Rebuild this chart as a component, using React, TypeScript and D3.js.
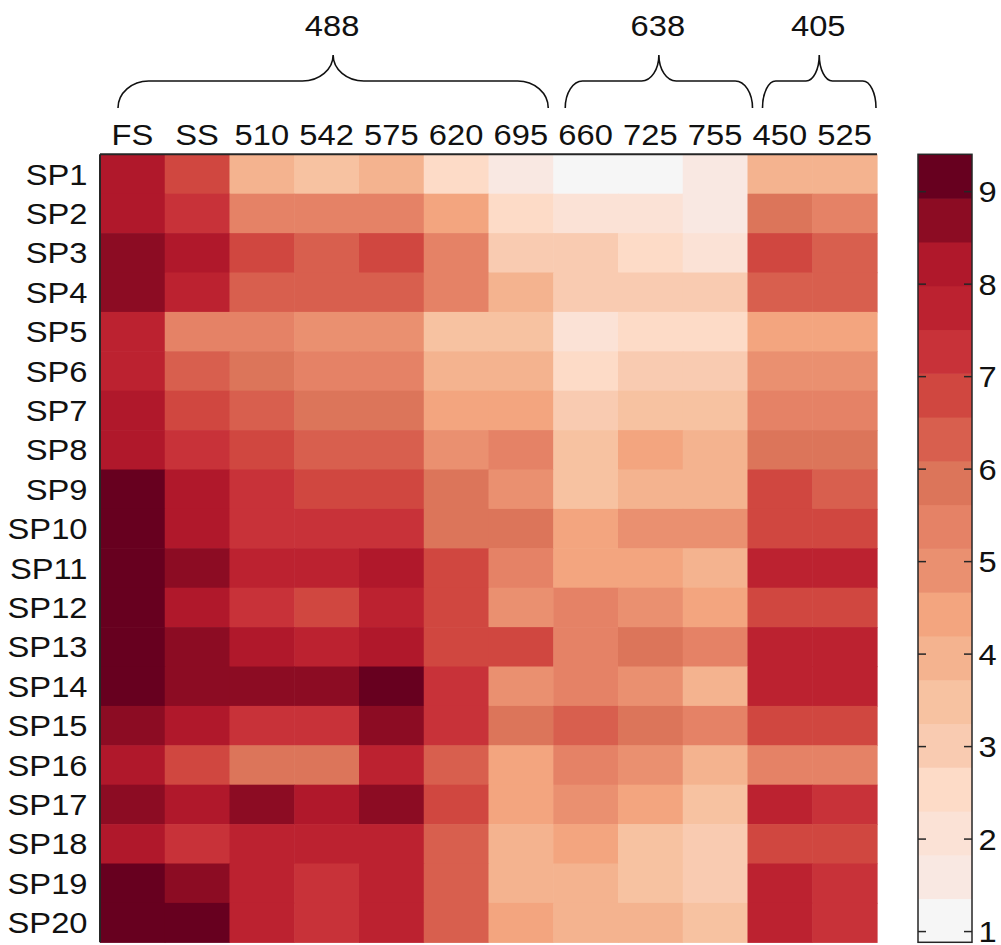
import React from "react";
import * as d3 from "d3";

// ---------- data ----------
const channels = ["FS", "SS", "510", "542", "575", "620", "695", "660", "725", "755", "450", "525"];
const samples = Array.from({ length: 20 }, (_, i) => `SP${i + 1}`);

const groups = [
  { label: "488", first: 0, last: 6 },
  { label: "638", first: 7, last: 9 },
  { label: "405", first: 10, last: 11 },
];

const colorbarTicks = [1, 2, 3, 4, 5, 6, 7, 8, 9];
const valueMin = 0.884;
const valueMax = 9.404;

// values per sample (row), in channel order
const values: number[][] = [
  [8.22, 6.80, 3.96, 3.49, 3.96, 2.54, 1.59, 1.12, 1.12, 1.59, 3.96, 3.96],
  [8.22, 7.27, 5.38, 5.38, 5.38, 4.43, 2.54, 2.07, 2.07, 1.59, 5.85, 5.38],
  [8.69, 8.22, 6.80, 6.33, 6.80, 5.38, 3.01, 3.01, 2.54, 2.07, 6.80, 6.33],
  [8.69, 7.75, 6.33, 6.33, 6.33, 5.38, 3.96, 3.01, 3.01, 3.01, 6.33, 6.33],
  [7.75, 5.38, 5.38, 4.91, 4.91, 3.49, 3.49, 2.07, 2.54, 2.54, 4.43, 4.43],
  [7.75, 6.33, 5.85, 5.38, 5.38, 3.96, 3.96, 2.54, 3.01, 3.01, 4.91, 4.91],
  [8.22, 6.80, 6.33, 5.85, 5.85, 4.43, 4.43, 3.01, 3.49, 3.49, 5.38, 5.38],
  [8.22, 7.27, 6.80, 6.33, 6.33, 4.91, 5.38, 3.49, 4.43, 3.96, 5.85, 5.85],
  [9.17, 8.22, 7.27, 6.80, 6.80, 5.85, 4.91, 3.49, 3.96, 3.96, 6.80, 6.33],
  [9.17, 8.22, 7.27, 7.27, 7.27, 5.85, 5.85, 4.43, 4.91, 4.91, 6.80, 6.80],
  [9.17, 8.69, 7.75, 7.75, 8.22, 6.80, 5.38, 4.43, 4.43, 3.96, 7.75, 7.75],
  [9.17, 8.22, 7.27, 6.80, 7.75, 6.80, 4.91, 5.38, 4.91, 4.43, 6.80, 6.80],
  [9.17, 8.69, 8.22, 7.75, 8.22, 6.80, 6.80, 5.38, 5.85, 5.38, 7.75, 7.75],
  [9.17, 8.69, 8.69, 8.69, 9.17, 7.27, 4.91, 5.38, 4.91, 3.96, 7.75, 7.75],
  [8.69, 8.22, 7.27, 7.27, 8.69, 7.27, 5.85, 6.33, 5.85, 5.38, 6.80, 6.80],
  [8.22, 6.80, 5.85, 5.85, 7.75, 6.33, 4.43, 5.38, 4.91, 3.96, 5.38, 5.38],
  [8.69, 8.22, 8.69, 8.22, 8.69, 6.80, 4.43, 4.91, 4.43, 3.49, 7.75, 7.27],
  [8.22, 7.27, 7.75, 7.75, 7.75, 6.33, 3.96, 4.43, 3.49, 3.01, 6.80, 6.80],
  [9.17, 8.69, 7.75, 7.27, 7.75, 6.33, 3.96, 3.96, 3.49, 3.01, 7.75, 7.27],
  [9.17, 9.17, 7.75, 7.27, 7.75, 6.33, 4.43, 3.96, 3.96, 3.49, 7.75, 7.27],
];

// ---------- style ----------
const palette = [
  "#f6f6f6", "#f9e8e2", "#fbe2d6", "#fddbc7", "#f9cbb1", "#f7c2a1",
  "#f4b38f", "#f3a57f", "#ea9070", "#e58266", "#dc755a", "#d85f4e",
  "#d04740", "#c83239", "#bc2230", "#b0182b", "#8c0c23", "#67001f",
];
const FONT = "'Liberation Sans', Arial, Helvetica, sans-serif";
const FS = 30;
const SX = 1.09;
const INK = "#111";
const AXIS = "#262626";

const plot = { left: 100, right: 877, top: 154.3, bottom: 942.3 };
const cb = { left: 918, right: 972 };
const braceInset: [number, number][] = [[18, 5], [12, -5], [15, 1]];
const brace = { yEnd: 108, yBar: 81, yPeak: 55, yLabel: 36 };

function Txt({ x, y, anchor = "middle", children }: any) {
  return (
    <text
      transform={`translate(${x},${y}) scale(${SX},1)`}
      textAnchor={anchor}
      fontFamily={FONT}
      fontSize={FS}
      fill={INK}
    >
      {children}
    </text>
  );
}

function bracePath(x0: number, x1: number) {
  const hw = (x1 - x0) / 2;
  const xm = x0 + hw;
  const c = Math.min(33, 7 + 0.11 * hw);
  const { yEnd, yBar, yPeak } = brace;
  const ry1 = yEnd - yBar;
  const ry2 = yBar - yPeak;
  return [
    `M${x0},${yEnd}`,
    `A${c},${ry1} 0 0 1 ${x0 + c},${yBar}`,
    `L${xm - c},${yBar}`,
    `A${c},${ry2} 0 0 0 ${xm},${yPeak}`,
    `A${c},${ry2} 0 0 0 ${xm + c},${yBar}`,
    `L${x1 - c},${yBar}`,
    `A${c},${ry1} 0 0 1 ${x1},${yEnd}`,
  ].join(" ");
}

export default function App() {
  const x = d3.scaleBand<string>().domain(channels).range([plot.left, plot.right]);
  const y = d3.scaleBand<string>().domain(samples).range([plot.top, plot.bottom]);
  const color = d3.scaleQuantize<string>().domain([valueMin, valueMax]).range(palette);
  const cbY = d3.scaleLinear().domain([valueMin, valueMax]).range([plot.bottom, plot.top]);
  const bw = x.bandwidth();
  const bh = y.bandwidth();
  const step = (valueMax - valueMin) / palette.length;

  return (
    <svg
      width={1001}
      height={945}
      style={{ position: "absolute", left: 0, top: 0, background: "#fff" }}
    >
      {/* cells */}
      {values.map((row, i) =>
        row.map((v, j) => (
          <rect
            key={`${i}-${j}`}
            x={x(channels[j])!}
            y={y(samples[i])!}
            width={bw + 0.6}
            height={bh + 0.6}
            fill={color(v)}
          />
        ))
      )}
      {/* axes lines (top and left) */}
      <line x1={plot.left} x2={plot.right} y1={plot.top} y2={plot.top} stroke={AXIS} strokeWidth={2} />
      <line x1={plot.left} x2={plot.left} y1={plot.top} y2={plot.bottom} stroke={AXIS} strokeWidth={2} />

      {/* column labels */}
      {channels.map((c) => (
        <Txt key={c} x={x(c)! + bw / 2} y={145}>
          {c}
        </Txt>
      ))}
      {/* row labels */}
      {samples.map((s) => (
        <Txt key={s} x={87.5} y={y(s)! + bh / 2 + 10.5} anchor="end">
          {s}
        </Txt>
      ))}

      {/* braces */}
      {groups.map((g, k) => {
        const x0 = x(channels[g.first])! + braceInset[k][0];
        const x1 = x(channels[g.last])! + bw - braceInset[k][1];
        return (
          <g key={g.label}>
            <path d={bracePath(x0, x1)} fill="none" stroke={INK} strokeWidth={1.6} />
            <Txt x={(x0 + x1) / 2 - 1} y={brace.yLabel}>
              {g.label}
            </Txt>
          </g>
        );
      })}

      {/* colorbar */}
      {palette.map((col, k) => {
        const lo = valueMin + k * step;
        const hi = lo + step;
        return (
          <rect
            key={col}
            x={cb.left}
            y={cbY(hi)}
            width={cb.right - cb.left}
            height={cbY(lo) - cbY(hi) + 0.6}
            fill={col}
          />
        );
      })}
      <rect
        x={cb.left}
        y={plot.top}
        width={cb.right - cb.left}
        height={plot.bottom - plot.top}
        fill="none"
        stroke={AXIS}
        strokeWidth={1.5}
      />
      {colorbarTicks.map((t) => (
        <g key={t}>
          <line x1={cb.left} x2={cb.left + 8} y1={cbY(t)} y2={cbY(t)} stroke={AXIS} strokeWidth={1.5} />
          <line x1={cb.right - 8} x2={cb.right} y1={cbY(t)} y2={cbY(t)} stroke={AXIS} strokeWidth={1.5} />
          <Txt x={978.5} y={cbY(t) + 10.5} anchor="start">
            {t}
          </Txt>
        </g>
      ))}
    </svg>
  );
}
